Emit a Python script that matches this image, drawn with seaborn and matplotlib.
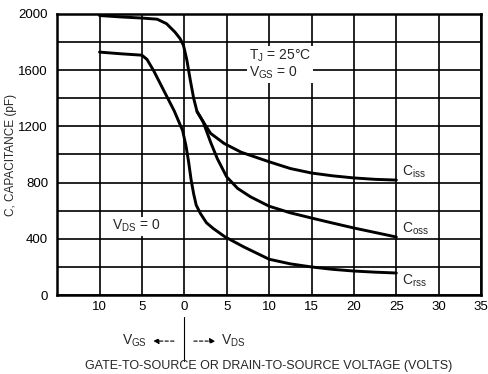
import numpy as np
import pandas as pd
import matplotlib
matplotlib.use("Agg")
import matplotlib.pyplot as plt
import matplotlib.transforms as mtransforms
import seaborn as sns

# Capacitance curves (x < 0 is V_GS side, x > 0 is V_DS side)
ciss_x = [-10, -7.5, -5, -3.2, -2.1, -1.1, -0.5, -0.1, 0.3, 0.7, 1.1, 1.5, 2.2, 3.1, 4.7, 6.7, 10, 12.5, 15, 17.5, 20, 22.5, 25]
ciss_y = [1988, 1978, 1970, 1962, 1930, 1870, 1824, 1776, 1671, 1530, 1400, 1305, 1235, 1150, 1078, 1016, 948, 900, 868, 848, 833, 823, 818]

coss_x = [1.5, 2.2, 3.1, 3.9, 5, 6.3, 7.8, 10, 12.5, 15, 17.5, 20, 22.5, 25]
coss_y = [1305, 1235, 1087, 969, 840, 758, 699, 632, 585, 548, 512, 477, 445, 413]

crss_x = [-10, -7.5, -5, -4.4, -3.6, -2.4, -1.2, -0.2, 0.2, 0.5, 0.8, 1.1, 1.4, 1.9, 2.6, 3.4, 4.8, 7, 10, 12.5, 15, 17.5, 20, 22.5, 25]
crss_y = [1728, 1716, 1706, 1676, 1594, 1452, 1311, 1170, 1060, 950, 820, 720, 640, 580, 515, 474, 414, 343, 255, 222, 200, 183, 171, 163, 157]

x_ticks = [-10, -5, 0, 5, 10, 15, 20, 25, 30, 35]
x_tick_labels = ["10", "5", "0", "5", "10", "15", "20", "25", "30", "35"]
y_ticks = [0, 400, 800, 1200, 1600, 2000]

df = pd.concat([
    pd.DataFrame({"v": ciss_x, "c": ciss_y, "curve": "Ciss"}),
    pd.DataFrame({"v": coss_x, "c": coss_y, "curve": "Coss"}),
    pd.DataFrame({"v": crss_x, "c": crss_y, "curve": "Crss"}),
])

sns.set_theme(style="white")
plt.rcParams["font.family"] = ["Liberation Sans", "DejaVu Sans"]
plt.rcParams["mathtext.fontset"] = "custom"
plt.rcParams["mathtext.rm"] = "Liberation Sans"
plt.rcParams["mathtext.it"] = "Liberation Sans"

fig = plt.figure(figsize=(4.88, 3.74), dpi=100)
ax = fig.add_axes([0.117, 0.211, 0.869, 0.752])

sns.lineplot(data=df, x="v", y="c", hue="curve", palette=["black"] * 3,
             linewidth=2.1, legend=False, ax=ax, zorder=3)

ax.set_xlim(-15, 35)
ax.set_ylim(0, 2000)
ax.set_xticks(x_ticks)
ax.set_xticklabels(x_tick_labels)
ax.set_yticks(y_ticks)
ax.set_yticks(range(0, 2001, 200), minor=True)
ax.grid(True, which="both", color="black", linewidth=1.2)
ax.set_axisbelow(True)
for s in ax.spines.values():
    s.set_color("black")
    s.set_linewidth(1.8)
ax.tick_params(axis="both", which="major", labelsize=9.5, colors="black", length=3, width=1)
ax.tick_params(axis="x", length=0, pad=4)
ax.tick_params(axis="y", which="minor", length=0)
ax.set_xlabel("")
ax.set_ylabel("C, CAPACITANCE (pF)", fontsize=8.5)
ax.yaxis.set_label_coords(-0.095, 0.5)

ax.text(7.6, 1640, "T$_{\\rm J}$ = 25°C\nV$_{\\rm GS}$ = 0", fontsize=10, va="center", ha="left",
        linespacing=1.0, bbox=dict(facecolor="white", edgecolor="none", pad=1.5), zorder=4)
ax.text(-8.5, 490, "V$_{\\rm DS}$ = 0", fontsize=10, va="center", ha="left",
        bbox=dict(facecolor="white", edgecolor="none", pad=1), zorder=4)
ax.text(25.7, 880, "C$_{\\rm iss}$", fontsize=10, va="center", ha="left")
ax.text(25.7, 470, "C$_{\\rm oss}$", fontsize=10, va="center", ha="left")
ax.text(25.7, 100, "C$_{\\rm rss}$", fontsize=10, va="center", ha="left")

# annotation under the x axis
tr = mtransforms.blended_transform_factory(ax.transData, fig.transFigure)
ax.plot([0, 0], [0.035, 0.152], color="black", linewidth=0.8, transform=tr, clip_on=False)
ax.annotate("", xy=(-4.0, 0.088), xytext=(-0.9, 0.088), xycoords=tr, textcoords=tr,
            arrowprops=dict(arrowstyle="-|>", linestyle=(0, (3, 2)), color="black", lw=0.8,
                            mutation_scale=8))
ax.annotate("", xy=(4.0, 0.088), xytext=(0.8, 0.088), xycoords=tr, textcoords=tr,
            arrowprops=dict(arrowstyle="-|>", linestyle=(0, (3, 2)), color="black", lw=0.8,
                            mutation_scale=8))
ax.text(-4.4, 0.088, "V$_{\\rm GS}$", transform=tr, fontsize=10, ha="right", va="center")
ax.text(4.3, 0.088, "V$_{\\rm DS}$", transform=tr, fontsize=10, ha="left", va="center")
fig.text(0.551, 0.022, "GATE-TO-SOURCE OR DRAIN-TO-SOURCE VOLTAGE (VOLTS)", fontsize=9,
         ha="center", va="center")

fig.savefig("out.png", dpi=100)
